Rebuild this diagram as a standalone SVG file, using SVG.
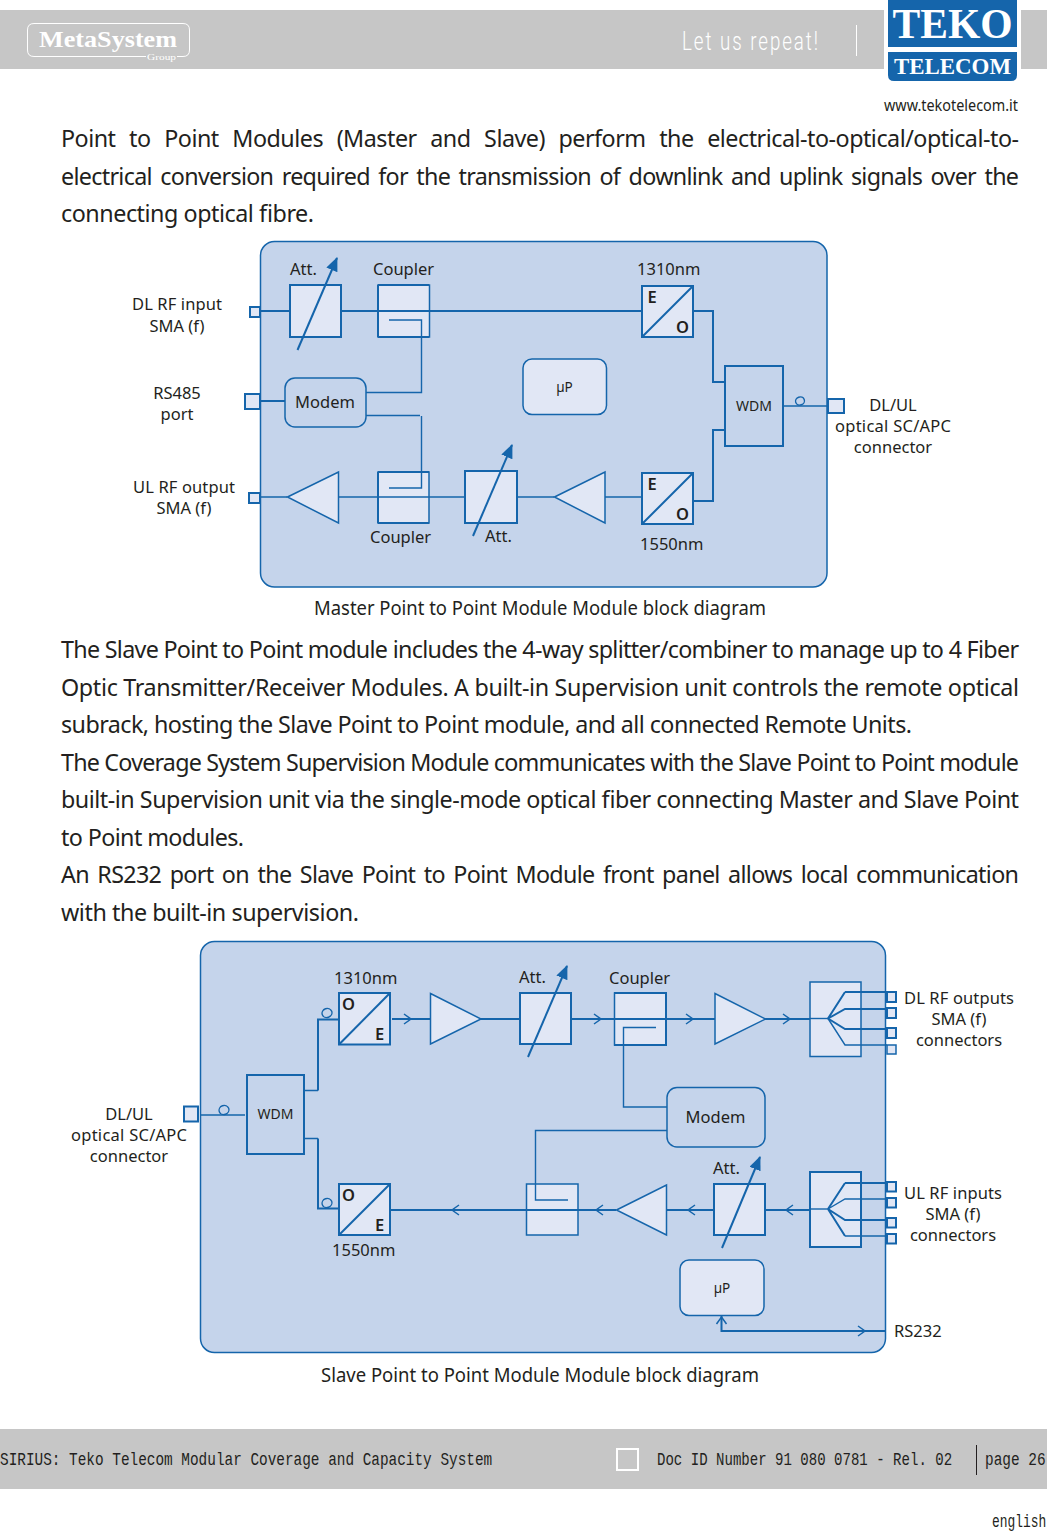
<svg xmlns="http://www.w3.org/2000/svg" width="1047" height="1531" viewBox="0 0 1047 1531">
<style>
text{font-family:"Noto Sans","Open Sans","Liberation Sans",sans-serif;fill:#231f20}
.b{font-size:23.3px}
.l{font-size:16.5px}
.c{font-size:19.5px;text-anchor:middle}
.m{text-anchor:middle}
.eo{font-size:16.5px;font-weight:600;text-anchor:middle}
.ft{font-family:"Liberation Mono","DejaVu Sans Mono",monospace;font-size:19px}
.panel{fill:#c5d4eb;stroke:#1565ab;stroke-width:1.5}
.box{fill:#e1e7f5;stroke:#1565ab;stroke-width:2}
.thin{fill:#e1e7f5;stroke:#1565ab;stroke-width:1.5}
.nf{fill:#c5d4eb;stroke:#1565ab;stroke-width:1.5}
.w{fill:none;stroke:#1565ab;stroke-width:2}
.t{fill:none;stroke:#1565ab;stroke-width:1.4}
.ar{fill:none;stroke:#1565ab;stroke-width:1.5}
.var{stroke:#1565ab;stroke-width:2;fill:none;marker-end:url(#big)}
</style>
<defs>
<marker id="big" markerUnits="userSpaceOnUse" markerWidth="16" markerHeight="14" refX="13" refY="6" orient="auto"><path d="M0 0L14 6L0 12Z" fill="#1565ab"/></marker>
<path id="ah" d="M-7 -5L0 0L-7 5" class="ar"/>
</defs>
<rect width="1047" height="1531" fill="#fff"/>

<g id="header">
<rect x="0" y="10" width="1047" height="59" fill="#c6c6c6"/>
<path d="M146 56.500H34Q27.500 56.500 27.500 50V30Q27.500 23.500 34 23.500H183Q189.500 23.500 189.500 30V50Q189.500 56.500 183 56.500H177" fill="none" stroke="#fff" stroke-width="1"/>
<text x="39" y="47" font-size="23" font-weight="700" textLength="138" lengthAdjust="spacingAndGlyphs" style="font-family:'Liberation Serif',serif;fill:#fff">MetaSystem</text>
<text x="147" y="60" font-size="8" textLength="29" lengthAdjust="spacingAndGlyphs" style="font-family:'Liberation Serif',serif;fill:#fff">Group</text>
<text transform="translate(682 50) scale(.72 1)" font-size="26" font-weight="300" textLength="189" style="font-family:Roboto,sans-serif;fill:#fff">Let us repeat!</text>
<path d="M856.500 25V56" stroke="#fff" stroke-width="1"/>
<rect x="884" y="-4" width="137" height="90" rx="6" fill="#fff"/>
<path d="M888 0H1017V47H888Z" fill="#1565ab"/>
<path d="M888 52H1017V75Q1017 81 1011 81H894Q888 81 888 75Z" fill="#1565ab"/>
<text x="952.500" y="38" font-size="43" font-weight="700" text-anchor="middle" textLength="120" lengthAdjust="spacingAndGlyphs" style="font-family:'Liberation Serif',serif;fill:#fff">TEKO</text>
<text x="952.500" y="74" font-size="24" font-weight="700" text-anchor="middle" textLength="117" lengthAdjust="spacingAndGlyphs" style="font-family:'Liberation Serif',serif;fill:#fff">TELECOM</text>
<text x="884" y="111" font-size="16" textLength="134" lengthAdjust="spacingAndGlyphs">www.tekotelecom.it</text>
</g>

<g id="body-text">
<text class="b" x="61" y="147" textLength="958" word-spacing="8">Point to Point Modules (Master and Slave) perform the electrical-to-optical/optical-to-</text>
<text class="b" x="61" y="185" textLength="958" word-spacing="3">electrical conversion required for the transmission of downlink and uplink signals over the</text>
<text class="b" x="61" y="222" textLength="253">connecting optical fibre.</text>
<text class="b" x="61" y="658" textLength="958">The Slave Point to Point module includes the 4-way splitter/combiner to manage up to 4 Fiber</text>
<text class="b" x="61" y="696" textLength="958">Optic Transmitter/Receiver Modules. A built-in Supervision unit controls the remote optical</text>
<text class="b" x="61" y="733" textLength="851">subrack, hosting the Slave Point to Point module, and all connected Remote Units.</text>
<text class="b" x="61" y="771" textLength="958">The Coverage System Supervision Module communicates with the Slave Point to Point module</text>
<text class="b" x="61" y="808" textLength="958">built-in Supervision unit via the single-mode optical fiber connecting Master and Slave Point</text>
<text class="b" x="61" y="846" textLength="183">to Point modules.</text>
<text class="b" x="61" y="883" textLength="958" word-spacing="3">An RS232 port on the Slave Point to Point Module front panel allows local communication</text>
<text class="b" x="61" y="921" textLength="298">with the built-in supervision.</text>
</g>

<g id="master-panel"><rect class="panel" x="260.500" y="241.500" width="566.500" height="345.500" rx="14"/></g>
<g id="master-connectors">
<path class="w" d="M260 311H641M693 311H713V382H725M693 501H713V430H725M260 401H285"/>
<path class="t" d="M389 320H421.500V392.500H365M365 415.500H420M421.500 416V488H389M260 497H287M338 497H465M517 497H554M605 497H642M783 406H828"/>
</g>
<g id="m-att1"><rect class="box" x="290" y="285" width="51" height="52"/><path class="var" d="M297.500 350L337 258"/><text class="l" x="290" y="275">Att.</text></g>
<g id="m-coupler1"><rect class="thin" x="378" y="285" width="51.500" height="52"/><path class="w" d="M378 311H429.500"/><path class="t" d="M389 320H421.500V337"/><path d="M378 285H429M378 337H429M378 285V337" class="w"/><text class="l" x="373" y="275">Coupler</text></g>
<g id="m-modem"><rect class="nf" x="285" y="378" width="81" height="49" rx="10"/><text class="l m" x="325" y="408">Modem</text></g>
<g id="m-up"><rect class="thin" x="523" y="359" width="83.500" height="55.500" rx="9"/><text class="m" x="564.500" y="392" font-size="13.500">µP</text></g>
<g id="m-eo1"><rect class="box" x="642" y="286" width="51" height="51"/><path class="w" d="M642 337L693 286"/><text class="eo" x="652" y="303">E</text><text class="eo" x="682.500" y="333">O</text><text class="l" x="637" y="275">1310nm</text></g>
<g id="m-eo2"><rect class="box" x="642" y="473" width="51" height="51"/><path class="w" d="M642 524L693 473"/><text class="eo" x="652" y="490">E</text><text class="eo" x="682.500" y="520">O</text><text class="l" x="640" y="550">1550nm</text></g>
<g id="m-wdm"><rect class="nf" x="725" y="366" width="58" height="80" style="stroke-width:2"/><text class="m" x="754" y="411" font-size="14">WDM</text><ellipse class="t" cx="800" cy="401" rx="4.500" ry="4" transform="rotate(-20 800 401)"/></g>
<g id="m-coupler2"><rect class="thin" x="378" y="472" width="51" height="51"/><path class="t" d="M378 497H429M389 488H421.500V472"/><path class="w" d="M378 472H429M378 523H429M378 472V523"/><text class="l" x="370" y="543">Coupler</text></g>
<g id="m-att2"><rect class="box" x="465" y="471" width="52" height="52"/><path class="var" d="M473 536L512 445"/><text class="l" x="485" y="542">Att.</text></g>
<g id="m-amp1"><path class="thin" d="M287.500 497L338.500 472V523Z"/></g>
<g id="m-amp2"><path class="thin" d="M554.500 497L605 472V523Z"/></g>
<g id="m-port1"><rect class="box" x="250" y="307" width="10" height="10"/><text class="l m" x="177" y="310" textLength="90">DL RF input</text><text class="l m" x="177" y="332">SMA (f)</text></g>
<g id="m-port2"><rect class="box" x="245" y="394" width="15" height="15"/><text class="l m" x="177" y="399">RS485</text><text class="l m" x="177" y="420">port</text></g>
<g id="m-port3"><rect class="box" x="249" y="493" width="11" height="10"/><text class="l m" x="184" y="493" textLength="102">UL RF output</text><text class="l m" x="184" y="514">SMA (f)</text></g>
<g id="m-port4"><rect class="box" x="828" y="399" width="16" height="14"/><text class="l m" x="893" y="411">DL/UL</text><text class="l m" x="893" y="432" textLength="116">optical SC/APC</text><text class="l m" x="893" y="453">connector</text></g>
<text class="c" x="540" y="615" textLength="452" lengthAdjust="spacingAndGlyphs">Master Point to Point Module Module block diagram</text>

<g id="slave-panel"><rect class="panel" x="200.500" y="941.500" width="685" height="411" rx="14"/></g>
<g id="slave-connectors">
<path class="t" d="M200 1115H245M304 1090.500H318M304 1138.500H318M656 1027.500H623.500V1107H667M667 1130.500H535.500V1200H568"/>
<path class="w" d="M318 1090.500V1019.500H339M318 1138.500V1208.500H339M392 1019H430M481 1019H520M571 1019H715M765 1019H810M390 1210H616M667 1210H714M765 1210H810M721.500 1316V1331H885"/>
<use href="#ah" x="411" y="1019"/><use href="#ah" x="601" y="1019"/><use href="#ah" x="693" y="1019"/><use href="#ah" x="790" y="1019"/>
<use href="#ah" transform="translate(452 1210) rotate(180)"/><use href="#ah" transform="translate(596 1210) rotate(180)"/><use href="#ah" transform="translate(688 1210) rotate(180)"/><use href="#ah" transform="translate(786 1210) rotate(180)"/>
<use href="#ah" x="865" y="1331"/><use href="#ah" transform="translate(721.500 1317) rotate(-90)"/>
</g>
<g id="s-wdm"><rect class="nf" x="247" y="1075" width="57" height="79" style="stroke-width:2"/><text class="m" x="275.500" y="1119" font-size="14">WDM</text><ellipse class="t" cx="224" cy="1110" rx="5" ry="4.500" transform="rotate(-20 224 1110)"/></g>
<g id="s-port"><rect class="box" x="184" y="1106.500" width="14" height="15"/><text class="l m" x="129" y="1120">DL/UL</text><text class="l m" x="129" y="1141" textLength="116">optical SC/APC</text><text class="l m" x="129" y="1162">connector</text></g>
<g id="s-oe1"><rect class="box" x="339" y="993" width="51" height="51.500"/><path class="w" d="M339 1044.500L390 993"/><text class="eo" x="348.500" y="1010">O</text><text class="eo" x="379.500" y="1040">E</text><text class="l" x="334" y="984">1310nm</text><ellipse class="t" cx="327" cy="1013" rx="5" ry="4.500" transform="rotate(-20 327 1013)"/></g>
<g id="s-oe2"><rect class="box" x="339" y="1184" width="51" height="51"/><path class="w" d="M339 1235L390 1184"/><text class="eo" x="348.500" y="1201">O</text><text class="eo" x="379.500" y="1231">E</text><text class="l" x="332" y="1256">1550nm</text><ellipse class="t" cx="327" cy="1203" rx="5" ry="4.500" transform="rotate(-20 327 1203)"/></g>
<g id="s-amp1"><path class="thin" d="M430.500 993.500L481 1019L430.500 1044Z"/></g>
<g id="s-att1"><rect class="box" x="520" y="993" width="51" height="51"/><path class="var" d="M528 1057L567 966"/><text class="l" x="519" y="983">Att.</text></g>
<g id="s-coupler1"><rect class="thin" x="614.500" y="993" width="51.500" height="52"/><path class="w" d="M614 1019H666M614 993H666V1045H614"/><path class="t" d="M656 1027.500H623.500V1045"/><text class="l" x="609" y="984">Coupler</text></g>
<g id="s-amp2"><path class="thin" d="M715 993.500L765.500 1019L715 1044Z"/></g>
<g id="s-split1"><rect class="thin" x="810" y="982" width="51" height="74.500"/><path class="t" d="M810 1018.500H828"/><path class="w" d="M845 992H887M828 1018.500L845 992M828 1018.500L845 1009H887M828 1018.500L845 1029H887"/><path class="t" d="M828 1018.500L845 1045H887"/></g>
<g id="s-ports1"><rect class="box" x="887" y="992" width="9" height="10"/><rect class="box" x="887" y="1008" width="9" height="10"/><rect class="box" x="887" y="1028" width="9" height="10"/><rect class="thin" x="887" y="1045" width="9" height="9"/><text class="l m" x="959" y="1004" textLength="110">DL RF outputs</text><text class="l m" x="959" y="1025">SMA (f)</text><text class="l m" x="959" y="1046">connectors</text></g>
<g id="s-modem"><rect class="nf" x="667" y="1087.500" width="98" height="59.500" rx="10"/><text class="l m" x="715.500" y="1123">Modem</text></g>
<g id="s-coupler2"><rect class="thin" x="526.500" y="1184" width="51.500" height="51"/><path class="w" d="M526 1210H578"/><path class="t" d="M535.500 1184V1200H568"/></g>
<g id="s-amp3"><path class="thin" d="M616.500 1210L666.500 1185V1235Z"/></g>
<g id="s-att2"><rect class="box" x="714" y="1184" width="51" height="51"/><path class="var" d="M722 1248L760 1157"/><text class="l" x="713" y="1174">Att.</text></g>
<g id="s-split2"><rect class="box" x="810" y="1172" width="51" height="75"/><path class="t" d="M810 1209H828"/><path class="w" d="M845 1183H887M828 1209L845 1183M828 1209L845 1220H887M828 1209L845 1236"/><path class="t" d="M828 1209L845 1199H887M845 1236H887"/></g>
<g id="s-ports2"><rect class="box" x="887" y="1182" width="9" height="9.500"/><rect class="box" x="887" y="1198" width="9" height="9.500"/><rect class="box" x="887" y="1218" width="9" height="9.500"/><rect class="box" x="887" y="1234" width="9" height="9.500"/><text class="l m" x="953" y="1199" textLength="98">UL RF inputs</text><text class="l m" x="953" y="1220">SMA (f)</text><text class="l m" x="953" y="1241">connectors</text></g>
<g id="s-up"><rect class="thin" x="680" y="1260" width="84" height="55.500" rx="9"/><text class="m" x="722" y="1293" font-size="13.500">µP</text></g>
<g id="s-rs232"><text class="l" x="894" y="1337">RS232</text></g>
<text class="c" x="540" y="1382" textLength="438" lengthAdjust="spacingAndGlyphs">Slave Point to Point Module Module block diagram</text>

<g id="footer">
<rect x="0" y="1429" width="1047" height="60" fill="#c6c6c6"/>
<text class="ft" transform="translate(0 1465) scale(.758 1)">SIRIUS: Teko Telecom Modular Coverage and Capacity System</text>
<rect x="617" y="1449" width="21" height="21" fill="none" stroke="#fff" stroke-width="2"/>
<text class="ft" transform="translate(657 1465) scale(.74 1)">Doc ID Number 91 080 0781 - Rel. 02</text>
<path d="M976.500 1445V1475" stroke="#231f20" stroke-width="1"/>
<text class="ft" transform="translate(985 1465) scale(.76 1)">page 26</text>
<text class="ft" transform="translate(992 1527) scale(.68 1)">english</text>
</g>
</svg>
